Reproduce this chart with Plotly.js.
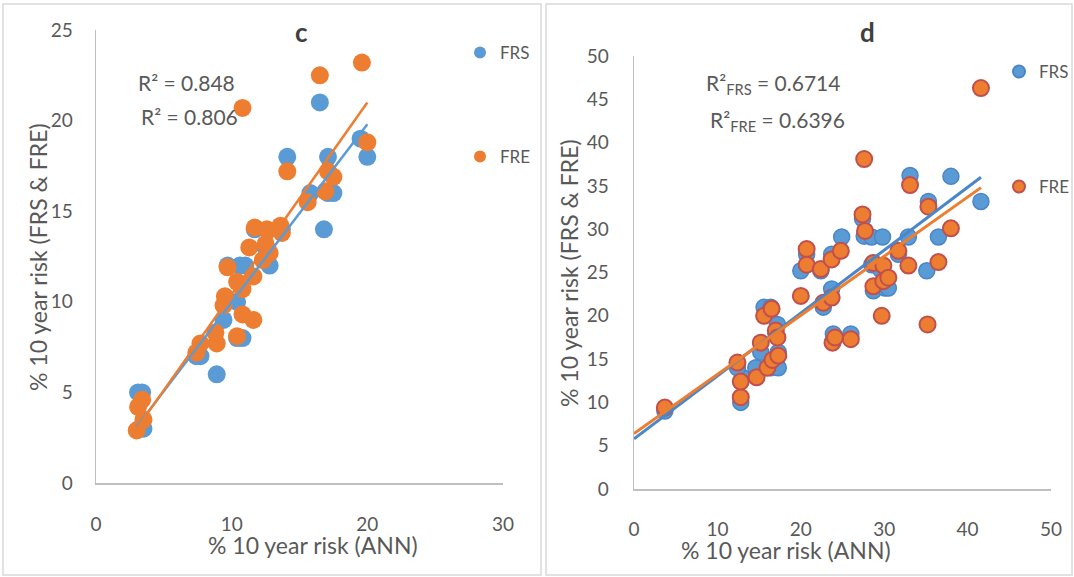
<!DOCTYPE html>
<html>
<head>
<meta charset="utf-8">
<script src="https://cdn.plot.ly/plotly-3.0.1.min.js"></script>
<style>html,body{margin:0;padding:0;background:#fff;}#chart{width:1074px;height:577px;}</style>
</head>
<body>
<div id="chart"></div>
<script>
// ---------- Panel c data ----------
const cFrsX = [3.1,3.4,3.2,3.5,7.4,7.7,8.9,9.4,10.4,10.4,10.8,9.7,10.6,11.0,12.8,12.5,11.7,13.7,14.1,15.8,16.5,16.8,17.1,17.1,17.5,19.5,20.0];
const cFrsY = [5.0,5.0,3.0,3.0,7.0,7.0,6.0,9.0,10.0,8.0,8.0,12.0,12.0,12.0,12.0,13.0,14.0,14.0,18.0,16.0,21.0,14.0,18.0,16.0,16.0,19.0,18.0];
const cFreX = [3.0,3.5,3.1,3.4,7.7,7.4,8.8,8.9,10.4,10.8,11.6,9.4,9.5,10.4,10.8,11.6,9.7,12.3,12.8,11.3,12.5,11.7,12.6,13.6,13.7,14.1,15.6,16.9,17.1,17.5,10.8,16.5,19.6,20.0];
const cFreY = [2.9,3.5,4.2,4.6,7.7,7.2,8.3,7.7,8.1,9.3,9.0,9.8,10.3,11.1,10.7,11.4,11.9,12.3,12.7,13.0,13.2,14.1,14.0,14.2,13.8,17.2,15.5,16.1,17.2,16.9,20.7,22.5,23.2,18.8];
const cTrendX = [3, 20];
const cTrendFrs = [3.1, 19.8];
const cTrendFre = [3.0, 21.0];
const cR2 = ["R² = 0.848", "R² = 0.806"];

// ---------- Panel d data ----------
const dFrsX = [3.7,12.8,13.0,12.4,14.6,15.2,15.6,16.4,16.4,17.3,17.3,17.2,17.0,20.0,20.7,22.4,22.7,23.7,23.7,23.9,24.9,26.0,27.4,27.6,28.5,28.5,28.7,29.6,29.8,30.1,30.5,31.7,32.9,33.1,35.1,35.3,36.5,38.0,41.6];
const dFrsY = [9.0,10.0,12.9,14.0,14.0,15.8,21.0,21.0,14.0,15.8,14.0,19.0,18.0,25.2,27.1,25.2,21.0,23.1,27.1,17.9,29.1,17.9,31.2,29.2,29.1,25.9,22.9,25.3,29.1,23.2,23.2,27.1,29.1,36.2,25.2,33.2,29.1,36.1,33.2];
const dFreX = [3.7,12.8,12.8,12.4,14.7,15.2,15.6,16.5,16.0,16.6,17.3,17.0,17.2,20.0,20.7,20.7,22.4,22.7,23.7,23.7,23.8,24.1,24.8,26.0,27.4,27.6,27.7,28.7,28.7,29.7,29.9,29.9,30.5,31.7,32.9,33.1,35.2,35.3,36.5,38.0,41.6];
const dFreY = [9.4,10.6,12.4,14.6,12.9,16.9,20.0,20.8,14.0,14.9,15.4,18.3,17.5,22.3,27.7,25.9,25.4,21.5,22.1,26.5,16.9,17.5,27.5,17.3,31.7,38.1,29.8,26.1,23.4,20.0,25.8,24.0,24.4,27.5,25.8,35.1,19.0,32.6,26.2,30.1,46.3];
const dTrendX = [0, 41.6];
const dTrendFrs = [5.8, 36.0];
const dTrendFre = [6.4, 34.8];
const dR2 = ["R²<sub>FRS</sub> = 0.6714", "R²<sub>FRE</sub> = 0.6396"];

const panelTitles = ["c", "d"];
const xTitle = "% 10 year risk (ANN)";
const yTitle = "% 10 year risk (FRS & FRE)";
const seriesNames = ["FRS", "FRE"];

// ---------- styling ----------
const W = 1074, H = 577;
const px = v => v / W;
const py = v => (H - v) / H;
const FONT = "Lato, 'Open Sans', sans-serif";
const GREY = "#595959";
const BLUE = "#5B9BD5", ORANGE = "#ED7D31";

const traces = [
  {x: cFrsX, y: cFrsY, type: "scatter", mode: "markers", name: seriesNames[0], xaxis: "x", yaxis: "y",
   marker: {color: BLUE, size: 18}, legend: "legend", cliponaxis: false},
  {x: cFreX, y: cFreY, type: "scatter", mode: "markers", name: seriesNames[1], xaxis: "x", yaxis: "y",
   marker: {color: ORANGE, size: 18}, legend: "legend2", cliponaxis: false},
  {x: cTrendX, y: cTrendFrs, type: "scatter", mode: "lines", xaxis: "x", yaxis: "y", showlegend: false,
   line: {color: BLUE, width: 2.5}, hoverinfo: "skip"},
  {x: cTrendX, y: cTrendFre, type: "scatter", mode: "lines", xaxis: "x", yaxis: "y", showlegend: false,
   line: {color: ORANGE, width: 2.5}, hoverinfo: "skip"},
  {x: dFrsX, y: dFrsY, type: "scatter", mode: "markers", name: seriesNames[0], xaxis: "x2", yaxis: "y2",
   marker: {color: BLUE, size: 16, line: {color: "#4A86C8", width: 1.5}}, legend: "legend3", cliponaxis: false},
  {x: dFreX, y: dFreY, type: "scatter", mode: "markers", name: seriesNames[1], xaxis: "x2", yaxis: "y2",
   marker: {color: ORANGE, size: 16, line: {color: "#C0504D", width: 2}}, legend: "legend4", cliponaxis: false},
  {x: dTrendX, y: dTrendFrs, type: "scatter", mode: "lines", xaxis: "x2", yaxis: "y2", showlegend: false,
   line: {color: "#4A86C8", width: 3}, hoverinfo: "skip"},
  {x: dTrendX, y: dTrendFre, type: "scatter", mode: "lines", xaxis: "x2", yaxis: "y2", showlegend: false,
   line: {color: ORANGE, width: 3}, hoverinfo: "skip"}
];

const axBase = {
  showgrid: false, zeroline: false, showline: true, linecolor: "#BFBFBF", linewidth: 1.5,
  ticks: "outside", tickcolor: "rgba(0,0,0,0)", tickfont: {family: FONT, size: 19, color: GREY},
  fixedrange: true
};

const legBase = (x, y) => ({
  x: x, y: y, xanchor: "left", yanchor: "middle", bgcolor: "rgba(0,0,0,0)",
  font: {family: FONT, size: 17, color: GREY}, itemsizing: "constant", borderwidth: 0
});

const txt = (text, x, y, size, extra) => Object.assign({
  text: text, x: px(x), y: py(y), xref: "paper", yref: "paper", showarrow: false,
  xanchor: "center", yanchor: "middle", font: {family: FONT, size: size, color: GREY}
}, extra || {});

const layout = {
  width: W, height: H, autosize: false,
  margin: {l: 0, r: 0, t: 0, b: 0, autoexpand: false},
  paper_bgcolor: "#fff", plot_bgcolor: "rgba(0,0,0,0)",
  showlegend: true,
  xaxis: Object.assign({}, axBase, {domain: [px(96), px(503)], range: [0, 30], dtick: 10, anchor: "y", ticklen: 24}),
  yaxis: Object.assign({}, axBase, {domain: [py(483), py(30)], range: [0, 25], dtick: 5, anchor: "x", ticklen: 18}),
  xaxis2: Object.assign({}, axBase, {domain: [px(634), px(1051)], range: [0, 50], dtick: 10, anchor: "y2", ticklen: 23}),
  yaxis2: Object.assign({}, axBase, {domain: [py(489), py(56)], range: [0, 50], dtick: 5, anchor: "x2", ticklen: 20}),
  legend: legBase(px(460), py(53)),
  legend2: legBase(px(460), py(157)),
  legend3: legBase(px(999), py(72)),
  legend4: legBase(px(999), py(187)),
  shapes: [
    {type: "rect", xref: "paper", yref: "paper", x0: px(3), x1: px(541), y0: py(575), y1: py(4),
     line: {color: "#D9D9D9", width: 1.5}},
    {type: "rect", xref: "paper", yref: "paper", x0: px(546), x1: px(1072), y0: py(575), y1: py(4),
     line: {color: "#D9D9D9", width: 1.5}}
  ],
  annotations: [
    txt(panelTitles[0], 301, 32, 26, {font: {family: FONT, size: 26, color: "#404040", weight: "bold"}}),
    txt(panelTitles[1], 867, 32, 26, {font: {family: FONT, size: 26, color: "#404040", weight: "bold"}}),
    txt(cR2[0], 186, 82, 21),
    txt(cR2[1], 189, 117, 21),
    txt(dR2[0], 773, 84, 21),
    txt(dR2[1], 777, 121, 21),
    txt(xTitle, 313, 545, 23),
    txt(xTitle, 786, 550, 23),
    txt(yTitle, 38, 257, 23, {textangle: -90}),
    txt(yTitle, 569, 273, 23, {textangle: -90})
  ]
};

Plotly.newPlot("chart", traces, layout, {staticPlot: true, displayModeBar: false});
</script>
</body>
</html>
